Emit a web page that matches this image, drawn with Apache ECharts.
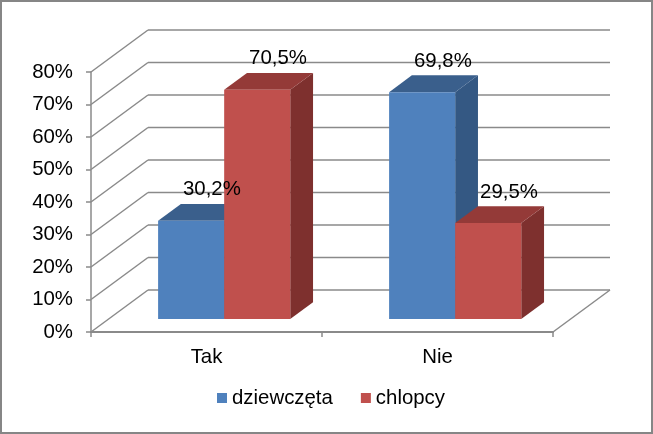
<!DOCTYPE html>
<html>
<head>
<meta charset="utf-8">
<script src="https://cdn.jsdelivr.net/npm/echarts@6/dist/echarts.min.js"></script>
<style>
  html, body { margin: 0; padding: 0; background: #fff; }
  #wrap { position: relative; width: 653px; height: 434px; }
  #chart { position: absolute; left: 0; top: 0; width: 653px; height: 434px; }
  #frame { position: absolute; left: 0; top: 0; width: 653px; height: 434px; box-sizing: border-box; border: 2px solid #868686; pointer-events: none; }
</style>
</head>
<body>
<div id="wrap"><div id="chart"></div><div id="frame"></div></div>
<script>
// ---- data ----
const categories = ['Tak', 'Nie'];
const seriesNames = ['dziewczęta', 'chlopcy'];
const girlsValues = [30.2, 69.8];
const boysValues = [70.5, 29.5];
const yTickValues = [0, 10, 20, 30, 40, 50, 60, 70, 80];

// ---- style constants ----
const FONT = '"Liberation Sans", Arial, sans-serif';
const FS = 20.4;
const DEPTH_X = 57, DEPTH_Y = -42;      // back wall depth offset (px)
const BAR_FRONT = 0.31, BAR_DEPTH = 0.4; // bar placement in depth (fraction)
const BAR_W = 0.286;                      // bar width as fraction of band
const GRID_COLOR = '#8a8a8a';
const palette = [
  { front: '#4F81BD', top: '#3A5F8C', side: '#345883' },
  { front: '#C0504D', top: '#943A38', side: '#7E302E' }
];

const fmt = v => v.toFixed(1).replace('.', ',') + '%';

function wallItem(params, api) {
  const cs = params.coordSys;
  const v = api.value(0);
  const y = api.coord([0, v])[1];
  const x0 = cs.x, x1 = cs.x + cs.width;
  const st = { stroke: GRID_COLOR, lineWidth: 1.5 };
  const children = [
    { type: 'line', shape: { x1: x0, y1: y, x2: x0 + DEPTH_X, y2: y + DEPTH_Y }, style: st },
    { type: 'line', shape: { x1: x0 + DEPTH_X, y1: y + DEPTH_Y, x2: x1 + DEPTH_X, y2: y + DEPTH_Y }, style: st }
  ];
  if (v === 0) {
    children.push({ type: 'line', shape: { x1: x1, y1: y, x2: x1 + DEPTH_X, y2: y + DEPTH_Y }, style: st });
  }
  return { type: 'group', children };
}

function geom(api, sIdx) {
  const ci = api.value(0), val = api.value(1);
  const base = api.coord([ci, 0]);
  const topP = api.coord([ci, val]);
  const band = api.size([1, 0])[0];
  const W = band * BAR_W;
  const sx = BAR_FRONT * DEPTH_X, sy = BAR_FRONT * DEPTH_Y;
  const dx = BAR_DEPTH * DEPTH_X, dy = BAR_DEPTH * DEPTH_Y;
  const L = base[0] + sx + (sIdx === 0 ? -W : 0);
  return { val, W, dx, dy, L, B: base[1] + sy, T: topP[1] + sy };
}

function barRenderer(sIdx) {
  return function (params, api) {
    const g = geom(api, sIdx);
    const { W, dx, dy, L, B, T } = g;
    const c = palette[sIdx];
    return {
      type: 'group',
      children: [
        { type: 'polygon', shape: { points: [[L + W, T], [L + W + dx, T + dy], [L + W + dx, B + dy], [L + W, B]] },
          style: { fill: c.side } },
        { type: 'polygon', shape: { points: [[L, T], [L + W, T], [L + W + dx, T + dy], [L + dx, T + dy]] },
          style: { fill: c.top } },
        { type: 'rect', shape: { x: L, y: T, width: W, height: B - T },
          style: { fill: c.front } }
      ]
    };
  };
}

function labelRenderer(params, api) {
  const sIdx = api.value(2);
  const g = geom(api, sIdx);
  return { type: 'text', x: g.L + g.W / 2 + g.dx - 2, y: g.T - 31,
    style: { text: fmt(g.val), fill: '#000', font: FS + 'px ' + FONT, align: 'center', verticalAlign: 'middle' } };
}

const labelData = [];
categories.forEach((c, i) => { labelData.push([i, girlsValues[i], 0]); labelData.push([i, boysValues[i], 1]); });

const chart = echarts.init(document.getElementById('chart'), null, { renderer: 'canvas' });
chart.setOption({
  animation: false,
  backgroundColor: '#fff',
  textStyle: { fontFamily: FONT },
  grid: { left: 91, right: 100, top: 72, bottom: 102 },
  legend: {
    bottom: 21, left: 212,
    itemWidth: 10, itemHeight: 10, itemGap: 28,
    icon: 'rect',
    textStyle: { fontSize: FS, color: '#000', fontFamily: FONT },
    data: seriesNames
  },
  xAxis: {
    type: 'category', data: categories,
    axisLine: { lineStyle: { color: GRID_COLOR, width: 2 } },
    axisTick: { show: true, length: 5, lineStyle: { color: GRID_COLOR, width: 1.5 } },
    axisLabel: { fontSize: FS, color: '#000', margin: 15, fontFamily: FONT },
    splitLine: { show: false }
  },
  yAxis: {
    type: 'value', min: 0, max: 80, interval: 10,
    axisLine: { show: true, lineStyle: { color: GRID_COLOR, width: 1.5 } },
    axisTick: { show: true, length: 5, lineStyle: { color: GRID_COLOR, width: 1.5 } },
    axisLabel: { fontSize: FS, color: '#000', margin: 18, formatter: '{value}%', fontFamily: FONT },
    splitLine: { show: false }
  },
  series: [
    { type: 'custom', name: 'wall', z: 1, clip: false, silent: true,
      renderItem: wallItem, data: yTickValues.map(v => [v]), encode: { y: 0 } },
    { type: 'custom', name: seriesNames[0], z: 3, clip: false,
      itemStyle: { color: palette[0].front },
      renderItem: barRenderer(0), data: categories.map((c, i) => [i, girlsValues[i]]), encode: { x: 0, y: 1 } },
    { type: 'custom', name: seriesNames[1], z: 4, clip: false,
      itemStyle: { color: palette[1].front },
      renderItem: barRenderer(1), data: categories.map((c, i) => [i, boysValues[i]]), encode: { x: 0, y: 1 } },
    { type: 'custom', name: 'labels', z: 6, clip: false, silent: true,
      renderItem: labelRenderer, data: labelData, encode: { x: 0, y: 1 } }
  ]
});
</script>
</body>
</html>
